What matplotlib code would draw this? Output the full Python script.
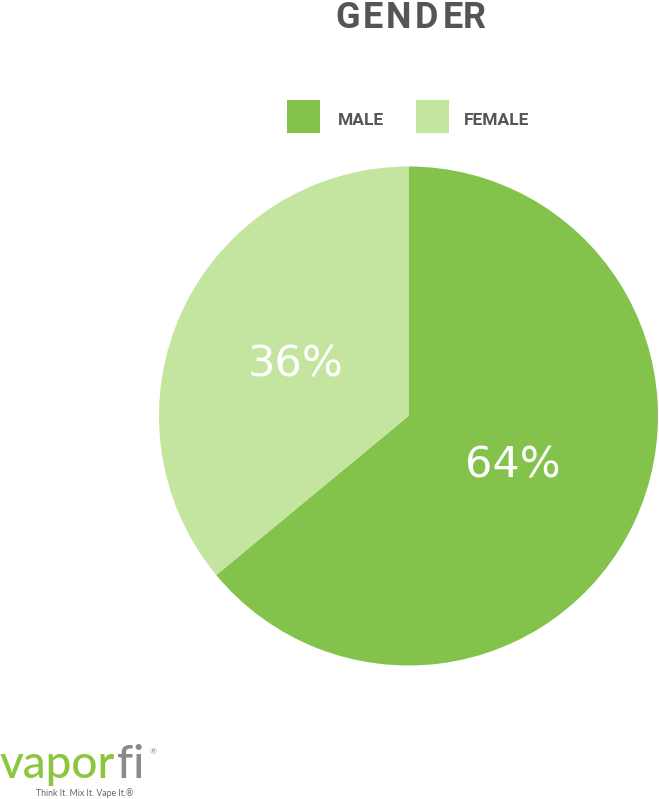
import matplotlib
matplotlib.use("Agg")
import matplotlib.pyplot as plt
from matplotlib.patches import Rectangle

categories = ["MALE", "FEMALE"]
values = [64, 36]
labels = ["64%", "36%"]
colors = ["#84C34B", "#C4E59F"]
title = "GENDER"

W, H = 659, 799
fig = plt.figure(figsize=(W / 100, H / 100), dpi=100)
fig.patch.set_facecolor("white")

def fx(px):
    return px / W

def fy(py):
    return 1 - py / H

# pie axes: center (408.5, 416), radius 249.5 px
cx, cy, r = 408.5, 416, 249.5
ax = fig.add_axes([(cx - r) / W, 1 - (cy + r) / H, 2 * r / W, 2 * r / H])
wedges, texts = ax.pie(values, colors=colors, startangle=90, counterclock=False,
                       radius=1.0, wedgeprops=dict(linewidth=0))
ax.set_xlim(-1, 1)
ax.set_ylim(-1, 1)
ax.set_aspect("equal")
ax.axis("off")

label_pos = [(513, 478), (296, 377)]
for lab, (x, y) in zip(labels, label_pos):
    fig.text(fx(x), fy(y), lab, ha="center", va="baseline", color="white",
             fontsize=31, family="DejaVu Sans")

# title with letter spacing
title_x = [347.5, 372.5, 398.5, 426.5, 453, 474]
for ch, x in zip(title, title_x):
    fig.text(fx(x), fy(28), ch, ha="center", va="baseline", fontsize=26,
             fontweight="bold", color="#555555", family="Roboto")

# legend
sq = [(287, 100), (416, 100)]
txt_x = [338, 464]
for (x, y), c, name, tx in zip(sq, colors, categories, txt_x):
    fig.patches.append(Rectangle((fx(x), fy(y + 33)), 33 / W, 33 / H,
                                 transform=fig.transFigure, color=c, lw=0))
    fig.text(fx(tx), fy(125), name, ha="left", va="baseline", fontsize=12.5,
             fontweight="bold", color="#555555", family="Roboto")

# logo
fig.text(fx(0), fy(778), "vapor", ha="left", va="baseline", fontsize=33,
         color="#8CC63F", family="Lato", fontweight="medium")
fig.text(fx(117), fy(778), "fi", ha="left", va="baseline", fontsize=33,
         color="#8A8A8A", family="Lato", fontweight="medium")
fig.text(fx(150), fy(752), "\u00ae", ha="left", va="center", fontsize=6,
         color="#8A8A8A", family="Lato")
fig.text(fx(36), fy(793), "Think It. Mix It. Vape It.\u00ae", ha="left", va="center",
         fontsize=6.3, color="#666666", family="Lato")

fig.savefig("out.png", dpi=100)
